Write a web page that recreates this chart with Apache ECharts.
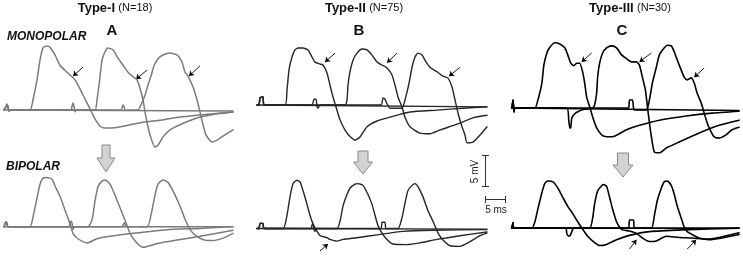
<!DOCTYPE html>
<html><head><meta charset="utf-8">
<script src="https://cdn.jsdelivr.net/npm/echarts@6/dist/echarts.min.js"></script>
<style>html,body{margin:0;padding:0;background:#fff}#c{width:743px;height:263px}</style>
</head><body><div id="c"></div>
<script>
// ---- data: time in ms, voltage in mV ----
const A_MONO_1 = [[0,0],[0.5,0.5],[0.75,0.9],[1,0.5],[1.25,-0.2],[1.5,0],[6.5,0],[7.25,1.6],[8.25,4.7],[9,7.8],[9.75,9.7],[10.75,10],[11.5,9.8],[12.75,8.6],[14,7],[15.75,5.9],[17,5.2],[17.75,4.7],[18.5,3.9],[19.25,3],[20.25,1.7],[21.25,0.5],[22.25,-0.8],[23.25,-1.9],[24,-2.5],[25,-2.8],[27,-2.8],[30.25,-2.5],[34.75,-1.9],[39,-1.6],[42.25,-1.25],[49,-0.8],[57.25,-0.3]];
const A_MONO_2 = [[0,0],[0.5,0.5],[0.75,0.9],[1,0.5],[1.25,-0.2],[1.5,0],[16.75,0],[17,0.6],[17.25,1.1],[17.5,0.6],[17.75,-0.3],[18,0],[22.75,0],[23.25,1.6],[23.75,3.9],[24,5.2],[24.5,7.8],[25.25,9.1],[26,9.7],[27.25,9.4],[28.5,8.1],[29.75,7.0],[31,5.9],[32.25,5.2],[33.25,4.7],[34,3.4],[34.75,1.6],[35.25,-0.3],[35.75,-1.9],[36.5,-3.9],[37.75,-5.8],[38.5,-5.5],[39.75,-4.2],[41.5,-3.1],[44,-2.3],[48.25,-1.25],[53.25,-0.6],[57.25,-0.3]];
const A_MONO_3 = [[0,0],[0.5,0.5],[0.75,0.9],[1,0.5],[1.25,-0.2],[1.5,0],[29.25,0],[29.75,0.8],[30,0.6],[30.25,0],[33.5,0],[34.25,0.8],[35.25,2.3],[36,3.9],[36.75,5.3],[37.5,6.9],[38.5,8.0],[39.75,8.6],[41.5,8.9],[43.25,8.6],[44.5,7.5],[45.25,5.9],[46,5.3],[47.25,3.6],[48.25,1.6],[49,-0.3],[49.75,-2.3],[50.5,-3.9],[52,-5],[53.25,-4.7],[54.75,-4.1],[57.25,-3.1]];
const A_MONO_BASE = [[0,0],[57.25,-0.15]];
const A_MONO_ARROWS = [[19.75,6.7,17.25,5.3],[35.75,6.25,33,4.8],[49,6.9,46.25,5.3]];

const A_BIP_1 = [[0,0],[0.5,0.8],[0.75,0.5],[1,0],[6.5,0],[7.25,1.6],[8.25,4.7],[9,7.0],[9.75,8.0],[10.75,8.1],[12,7.8],[12.75,6.7],[14,5],[15.25,2.7],[16.5,0.5],[17.25,-1.1],[18.5,-2.0],[20.75,-2.7],[23.25,-2.0],[26.5,-1.6],[32.25,-1.1],[40.75,-0.5],[49,-0.3],[57.25,0]];
const A_BIP_2 = [[0,0],[0.5,0.8],[0.75,0.5],[1,0],[16.25,0],[16.5,0.6],[16.75,0.9],[17,0.6],[17.25,-0.5],[17.5,0],[21,0],[22,1.1],[22.75,4.2],[23.5,6.6],[24.5,7.5],[25.25,7.7],[26.5,7.0],[27.75,5.2],[29,3.1],[30.25,1.1],[31.5,-1.1],[33.25,-2.7],[34.75,-3.4],[38.25,-2.8],[43.25,-2.2],[49,-1.6],[57.25,-0.6]];
const A_BIP_3 = [[0,0],[0.5,0.8],[0.75,0.5],[1,0],[29.5,0],[30,0.6],[30.25,0.5],[30.5,0],[35.75,0],[37,2.7],[37.75,5.2],[38.5,7.0],[39.75,7.7],[41,7.3],[42.25,5.9],[44,3.4],[45.25,1.25],[46.5,-0.5],[48.25,-1.6],[50.75,-2.3],[52.25,-2.3],[54.75,-1.9],[57.25,-1.1]];
const A_BIP_BASE = [[0,0],[57.25,0]];
const A_BIP_ARROWS = [];

const B_MONO_1 = [[0,0],[0.5,0],[0.75,1.1],[1.5,1.25],[1.75,0],[7,0],[7.5,2.3],[8,5.5],[8.75,7.5],[9.5,8.6],[10.25,8.9],[11.5,8.9],[12.75,8.6],[13.75,7.5],[14.5,6.7],[15.75,6.4],[16.5,6.25],[17.5,5],[18.25,3.1],[19,1.25],[19.75,-0.3],[20.75,-2.3],[22.5,-4.4],[24.5,-5.5],[25.75,-5],[27.5,-3.4],[30,-2.5],[33.25,-1.9],[38.25,-1.1],[45,-0.8],[51.5,-0.5],[57.5,-0.3]];
const B_MONO_2 = [[0,0],[0.5,0],[0.75,1.1],[1.5,1.25],[1.75,0],[13.75,0],[14.25,0.9],[14.75,0.9],[15,-0.2],[15.25,-0.5],[15.75,0],[22,0],[22.5,0.8],[22.75,3.1],[23.25,5.2],[24,7.0],[25,8.1],[26.25,8.75],[27.5,8.6],[28.75,7.8],[30,6.7],[31.25,6.25],[32.5,5.8],[33.75,4.7],[34.5,3.1],[35.25,1.25],[36.25,-0.3],[37,-1.9],[38.25,-3.4],[40.75,-4.4],[43.25,-4.5],[45.75,-3.9],[50,-3.0],[54,-2.0],[57.5,-1.6]];
const B_MONO_3 = [[0,0],[0.5,0],[0.75,1.1],[1.5,1.25],[1.75,0],[31,0],[31.5,1.1],[32,0.9],[32.5,0.2],[33.25,-0.5],[36.25,-0.5],[37,0.8],[37.5,2.0],[38,3.4],[38.75,5.9],[39.5,7.5],[40.25,8.1],[41.25,7.8],[42,7.0],[43.25,5.9],[45,5.2],[46.5,4.5],[47.75,4.2],[48.75,2.8],[49.5,0.8],[50.25,-1.25],[51.25,-3.4],[52,-4.7],[52.5,-5.9],[54,-5.8],[55.75,-4.7],[57.5,-3.4]];
const B_MONO_BASE = [[0,0],[57.5,-0.3]];
const B_MONO_ARROWS = [[19.5,8.1,17,6.7],[35,8.1,32.5,6.6],[50.75,5.9,48,4.5]];

const B_BIP_1 = [[0,0],[0.5,0],[0.75,0.9],[1.5,0.9],[1.75,0],[6.5,0],[7.5,2.3],[8.25,5.5],[9,7.8],[10,8.4],[10.75,8.1],[11.5,6.6],[12.5,4.2],[13.25,2.3],[14,0.8],[15,-0.5],[15.75,-1.25],[17.5,-1.6],[18.25,-1.9],[20,-2.2],[21.5,-1.9],[25,-1.6],[30,-1.1],[36.5,-0.5],[44,-0.3],[57.5,-0.2]];
const B_BIP_2 = [[0,0],[0.5,0],[0.75,0.9],[1.5,0.9],[1.75,0],[13.5,0],[13.75,0.6],[14,0.8],[14.25,-0.2],[14.5,-0.5],[14.75,0],[20,0],[20.75,1.25],[21.5,3.9],[22.5,5.9],[23.25,7.0],[24.5,7.7],[25.25,7.8],[26.5,7.5],[27.75,5.9],[28.75,4.2],[29.5,2.3],[30.25,0.5],[31.25,-0.8],[32.5,-1.9],[34,-2.7],[37.5,-2.8],[40.75,-2.5],[45,-1.9],[50.75,-1.25],[57.5,-0.6]];
const B_BIP_3 = [[0,0],[0.5,0],[0.75,0.9],[1.5,0.9],[1.75,0],[31,0],[31.25,1.1],[32,1.1],[32.25,0],[35.25,0],[36.25,1.9],[37,4.4],[37.75,6.6],[38.75,7.5],[39.5,7.8],[40.25,7.3],[41.5,5.5],[42.75,3.1],[44,1.25],[45.25,-0.8],[46.5,-2.0],[48.25,-3.0],[50.75,-3.1],[53.25,-2.3],[55.75,-1.25],[57.5,-0.8]];
const B_BIP_BASE = [[0,0],[57.5,-0.1]];
const B_BIP_ARROWS = [[15.75,-3.9,17.75,-2.7]];

const C_MONO_1 = [[0,0],[0.25,1.25],[0.5,-0.6],[0.75,0],[5.75,0],[6.5,1.25],[7.5,3.9],[8,6.7],[8.75,8.6],[9.5,9.5],[10.75,10.2],[12,10],[13.25,9.4],[14,8.3],[14.75,7.0],[15.5,6.6],[16.25,7.0],[17,7.0],[17.75,5.6],[18.25,3.9],[18.75,1.7],[19.5,0.2],[20.25,-1.4],[21.25,-3.1],[22.5,-4.2],[23.75,-4.5],[25.75,-4.4],[28.75,-3.4],[32,-2.7],[37,-1.9],[43.75,-1.25],[50.25,-0.8],[57,-0.5]];
const C_MONO_2 = [[0,0],[0.25,1.25],[0.5,-0.6],[0.75,0],[13.75,0],[14.25,-1.9],[14.5,-3.1],[14.75,-3.1],[15,-1.6],[15.75,-0.9],[16.75,-0.5],[18.25,-0.2],[20.25,0],[20.75,0.5],[21.25,2.3],[21.5,4.8],[22,7.0],[22.75,8.6],[23.75,9.4],[25,9.7],[26.25,9.4],[27.5,8.3],[28.75,7.7],[30,7.2],[31.25,7.2],[32,6.7],[32.75,4.8],[33.5,2.8],[34,0.2],[34.5,-2.3],[35,-4.5],[35.75,-6.9],[37,-7.0],[38.75,-6.25],[42,-5.3],[47,-3.9],[52,-2.7],[57,-1.9]];
const C_MONO_3 = [[0,0],[0.25,1.25],[0.5,-0.6],[0.75,0],[29.25,0],[29.5,1.25],[30.25,1.25],[30.5,0],[30.75,-0.3],[33.75,-0.3],[34.5,1.25],[35.25,3.9],[36.25,6.4],[37,8.3],[38.25,9.4],[39,9.8],[40,9.7],[40.75,8.75],[41.5,7.5],[42.5,5.9],[43.25,4.8],[44,4.4],[45,4.7],[45.75,3.9],[46.5,2.3],[47.5,0.8],[48.25,-0.8],[49,-2.3],[49.5,-3.1],[50.75,-4.5],[52,-4.7],[53.75,-4.2],[55.25,-3.4],[57,-3.0]];
const C_MONO_BASE = [[0,0],[57,-0.4]];
const C_MONO_ARROWS = [[20,8.6,17.5,7.2],[35,8.6,32,7.2],[48.25,6.25,45.75,4.8]];

const C_BIP_1 = [[0,0],[0.25,0.9],[0.5,0],[5,0],[5.75,1.1],[6.5,3.3],[7.5,6.1],[8.25,7.7],[9,8.1],[10.25,8.0],[11.5,6.9],[12.75,5.3],[14,3.75],[15.25,2.5],[16.5,1.1],[17.75,-0.2],[19,-1.4],[20.75,-2.5],[22,-3.0],[23.75,-2.8],[26.25,-2.0],[29.5,-1.25],[34.5,-0.6],[42.75,-0.3],[57,0]];
const C_BIP_2 = [[0,0],[0.25,0.9],[0.5,0],[13.5,0],[13.75,-0.9],[14.25,-1.4],[14.75,-1.1],[15.25,-0.2],[15.75,0],[19.5,0],[20.25,1.7],[20.75,4.2],[21.5,6.4],[22.5,7.3],[23,7.5],[23.75,7.2],[24.5,5.3],[25.25,3.3],[26.25,1.1],[27,0.2],[27.75,-0.3],[29.5,-0.5],[31.25,-0.9],[32.75,-1.7],[34.5,-2.3],[36.25,-2.2],[38.75,-1.4],[42,-1.6],[45.25,-1.7],[48.75,-1.9],[52,-1.6],[57,-0.8]];
const C_BIP_3 = [[0,0],[0.25,0.9],[0.5,0],[29.25,0],[29.5,1.4],[30.5,1.4],[30.75,0],[35,0],[35.75,2.2],[36.5,4.8],[37.5,6.9],[38.25,8.0],[39,8.1],[40,7.3],[40.75,5.8],[41.5,3.75],[42.5,1.7],[43.25,0.2],[44,-0.6],[45.25,-1.1],[47,-1.7],[49.5,-2.0],[52.75,-1.7],[57,-1.1]];
const C_BIP_BASE = [[0,0],[57,0]];
const C_BIP_ARROWS = [[29.5,-3.6,31.25,-2.0],[44,-3.6,46.25,-2.0]];

const PANEL_TITLES = ['Type-I', 'Type-II', 'Type-III'];
const PANEL_N = ['(N=18)', '(N=75)', '(N=30)'];
const PANEL_LETTERS = ['A', 'B', 'C'];
const ROW_LABELS = ['MONOPOLAR', 'BIPOLAR'];
const SCALE_LABELS = ['5 mV', '5 ms'];

// ---- layout / style ----
const PX_MS = 4, PX_MV = 6.4;
const X_MAX = 58;
const MONO_RANGE = [-10, 12], BIP_RANGE = [-6, 10];
const FONT = 'Arial, "Liberation Sans", Helvetica, sans-serif';
const panels = [
  {left: 4,   monoBase: 110, bipBase: 230, color: '#7b7b7b', width: 1.5,
   mono: [A_MONO_BASE, A_MONO_1, A_MONO_2, A_MONO_3], bip: [A_BIP_BASE, A_BIP_1, A_BIP_2, A_BIP_3],
   monoArrows: A_MONO_ARROWS, bipArrows: A_BIP_ARROWS,
   titleX: 115, letterX: 112, bigArrow: {cx: 106, top: 145, headTop: 158, tip: 172, sw: 4, hw: 9}},
  {left: 257, monoBase: 105, bipBase: 235, color: '#262626', width: 1.4,
   mono: [B_MONO_BASE, B_MONO_1, B_MONO_2, B_MONO_3], bip: [B_BIP_BASE, B_BIP_1, B_BIP_2, B_BIP_3],
   monoArrows: B_MONO_ARROWS, bipArrows: B_BIP_ARROWS,
   titleX: 364, letterX: 359, bigArrow: {cx: 363, top: 151, headTop: 162, tip: 174, sw: 5, hw: 9.5}},
  {left: 512, monoBase: 108, bipBase: 234, color: '#000000', width: 1.6,
   mono: [C_MONO_BASE, C_MONO_1, C_MONO_2, C_MONO_3], bip: [C_BIP_BASE, C_BIP_1, C_BIP_2, C_BIP_3],
   monoArrows: C_MONO_ARROWS, bipArrows: C_BIP_ARROWS,
   titleX: 630, letterX: 622, bigArrow: {cx: 623, top: 153, headTop: 165, tip: 177, sw: 5.5, hw: 10}}
];

const grids = [], xAxes = [], yAxes = [], series = [], graphics = [];
panels.forEach((p) => {
  [['mono', MONO_RANGE, p.monoBase, p.monoArrows], ['bip', BIP_RANGE, p.bipBase, p.bipArrows]].forEach(([key, range, base, arrows]) => {
    const gi = grids.length;
    grids.push({left: p.left, top: base - range[1] * PX_MV, width: X_MAX * PX_MS, height: (range[1] - range[0]) * PX_MV, show: false});
    xAxes.push({type: 'value', gridIndex: gi, min: 0, max: X_MAX, show: false});
    yAxes.push({type: 'value', gridIndex: gi, min: range[0], max: range[1], show: false});
    p[key].forEach((d) => {
      series.push({type: 'line', xAxisIndex: gi, yAxisIndex: gi, data: d, symbol: 'none', smooth: 0.2,
        clip: false, silent: true, lineStyle: {color: p.color, width: p.width, join: 'round', cap: 'round'}});
    });
    if (arrows.length) {
      series.push({type: 'lines', coordinateSystem: 'cartesian2d', xAxisIndex: gi, yAxisIndex: gi,
        symbol: ['none', 'arrow'], symbolSize: 5, silent: true,
        lineStyle: {color: '#000', width: 0.9, opacity: 1},
        data: arrows.map(a => ({coords: [[a[0], a[1]], [a[2], a[3]]]}))});
    }
  });
});

panels.forEach((p, i) => {
  graphics.push({type: 'text', x: p.titleX, y: 8, style: {
    text: '{b|' + PANEL_TITLES[i] + '} {n|' + PANEL_N[i] + '}', align: 'center', verticalAlign: 'middle',
    rich: {b: {font: 'bold 13px ' + FONT, fill: '#111'}, n: {font: '11px ' + FONT, fill: '#111'}}}});
  graphics.push({type: 'text', x: p.letterX, y: 31, style: {
    text: PANEL_LETTERS[i], font: 'bold 15px ' + FONT, fill: '#111', align: 'center', verticalAlign: 'middle'}});
  const a = p.bigArrow;
  graphics.push({type: 'polygon', shape: {points: [
    [a.cx - a.sw, a.top], [a.cx + a.sw, a.top], [a.cx + a.sw, a.headTop], [a.cx + a.hw, a.headTop],
    [a.cx, a.tip], [a.cx - a.hw, a.headTop], [a.cx - a.sw, a.headTop]]},
    style: {fill: '#d3d3d3', stroke: '#8a8a8a', lineWidth: 1}});
});
graphics.push({type: 'text', x: 7, y: 37, style: {text: ROW_LABELS[0], font: 'italic bold 12px ' + FONT, fill: '#111', verticalAlign: 'middle'}});
graphics.push({type: 'text', x: 6, y: 167, style: {text: ROW_LABELS[1], font: 'italic bold 12px ' + FONT, fill: '#111', verticalAlign: 'middle'}});
// scale bars
const sb = {stroke: '#333', lineWidth: 1};
graphics.push({type: 'line', shape: {x1: 485.5, y1: 155, x2: 485.5, y2: 187}, style: sb});
graphics.push({type: 'line', shape: {x1: 482, y1: 155.5, x2: 489, y2: 155.5}, style: sb});
graphics.push({type: 'line', shape: {x1: 482, y1: 186.5, x2: 489, y2: 186.5}, style: sb});
graphics.push({type: 'line', shape: {x1: 485, y1: 199.5, x2: 506, y2: 199.5}, style: sb});
graphics.push({type: 'line', shape: {x1: 485.5, y1: 196, x2: 485.5, y2: 203}, style: sb});
graphics.push({type: 'line', shape: {x1: 505.5, y1: 196, x2: 505.5, y2: 203}, style: sb});
graphics.push({type: 'text', x: 475.5, y: 171.5, rotation: Math.PI / 2, style: {text: SCALE_LABELS[0], font: '10px ' + FONT, fill: '#222', align: 'center', verticalAlign: 'middle'}});
graphics.push({type: 'text', x: 496, y: 210, style: {text: SCALE_LABELS[1], font: '10px ' + FONT, fill: '#222', align: 'center', verticalAlign: 'middle'}});

const chart = echarts.init(document.getElementById('c'), null, {renderer: 'canvas'});
chart.setOption({animation: false, backgroundColor: '#fff', grid: grids, xAxis: xAxes, yAxis: yAxes, series, graphic: graphics});
</script></body></html>
